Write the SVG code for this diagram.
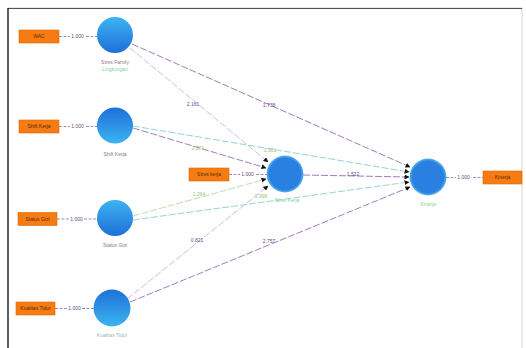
<svg xmlns="http://www.w3.org/2000/svg" width="526" height="348" viewBox="0 0 526 348">
<style>
text{font-family:"Liberation Sans",Arial,sans-serif;font-size:5px;text-anchor:middle}
.lbl{fill:#8a7a8a}
.sub{fill:#7fd39a}
.coef{fill:#6a4a80}
.coefg{fill:#9ac27a}
.box{fill:#f57c12;stroke:#e06a00;stroke-width:0.6}
.btxt{fill:#5a2a00}
.ld{stroke:#7a5a8a;stroke-width:0.7;stroke-dasharray:3 1.5;fill:none}
.c{fill:none;stroke-width:0.8;stroke-dasharray:7 2}
.p{stroke:#8a5aa8}
.lp{stroke:#c8a8d8}
.t{stroke:#7cc8c8}
.g{stroke:#a8d890}
</style>
<defs>
<radialGradient id="halo" cx="0.5" cy="0.5" r="0.5">
<stop offset="0.85" stop-color="#2a80e0"/>
<stop offset="1" stop-color="#5ab8f0"/>
</radialGradient>
<linearGradient id="down" x1="0" y1="0" x2="0" y2="1">
<stop offset="0" stop-color="#3cb4f2"/>
<stop offset="1" stop-color="#1f6fd8"/>
</linearGradient>
<linearGradient id="up" x1="0" y1="0" x2="0" y2="1">
<stop offset="0" stop-color="#1f6fd8"/>
<stop offset="1" stop-color="#3cb4f2"/>
</linearGradient>
<marker id="arr" markerWidth="5" markerHeight="5" refX="4.5" refY="2.5" orient="auto" markerUnits="userSpaceOnUse">
<path d="M0,0 L5,2.5 L0,5 Z" fill="#111"/>
</marker>
</defs>
<rect x="0" y="0" width="526" height="348" fill="#fff"/>
<path d="M8,348 V8 H522 V348" fill="none" stroke="#bbb" stroke-width="0.6"/>
<line x1="8" y1="8.5" x2="522" y2="8.5" stroke="#5a4a6a" stroke-width="1.2"/>
<line x1="8" y1="8" x2="8" y2="348" stroke="#222" stroke-width="1.4"/>

<g id="connectors">
<path class="c lp" d="M130,48 L268,162" marker-end="url(#arr)"/>
<path class="c p" d="M132,44 L410,167" marker-end="url(#arr)"/>
<path class="c p" d="M133,128 L266,168" marker-end="url(#arr)"/>
<path class="c t" d="M133,126 L409,172" marker-end="url(#arr)"/>
<path class="c g" d="M133,216 L266,179" marker-end="url(#arr)"/>
<path class="c t" d="M133,220 L409,182" marker-end="url(#arr)"/>
<path class="c lp" d="M127,299 L268,186" marker-end="url(#arr)"/>
<path class="c p" d="M130,302 L410,187" marker-end="url(#arr)"/>
<path class="c p" d="M303,175 L409,177" marker-end="url(#arr)"/>
<line class="ld" x1="59" y1="36.5" x2="97" y2="36.5"/>
<line class="ld" x1="59" y1="126.5" x2="97" y2="126.5"/>
<line class="ld" x1="57" y1="219" x2="96" y2="219"/>
<line class="ld" x1="55" y1="308.5" x2="94" y2="308.5"/>
<line class="ld" x1="229" y1="174.5" x2="267" y2="174.5"/>
<line class="ld" x1="446" y1="177.5" x2="483" y2="177.5"/>
<g>
<rect x="70" y="34" width="15" height="5" fill="#fff"/><text class="coef" x="77.5" y="38.3">1.000</text>
<rect x="70" y="124" width="15" height="5" fill="#fff"/><text class="coef" x="77.5" y="128.3">1.000</text>
<rect x="69" y="216.5" width="15" height="5" fill="#fff"/><text class="coef" x="76.5" y="220.8">1.000</text>
<rect x="67" y="306" width="15" height="5" fill="#fff"/><text class="coef" x="74.5" y="310.3">1.000</text>
<rect x="240" y="172" width="15" height="5" fill="#fff"/><text class="coef" x="247.5" y="176.3">1.000</text>
<rect x="456" y="175" width="15" height="5" fill="#fff"/><text class="coef" x="463.5" y="179.3">1.000</text>
<text class="coef" x="193" y="106">2.161</text>
<text class="coef" x="269" y="107">1.738</text>
<text class="coefg" x="198" y="150">2.271</text>
<text class="coefg" x="270" y="152">1.301</text>
<text class="coefg" x="199" y="196">1.264</text>
<text class="coefg" x="261" y="198">1.996</text>
<text class="coef" x="197" y="242">0.821</text>
<text class="coef" x="269" y="243">2.757</text>
<text class="coef" x="353" y="176">1.522</text>
</g>
</g>

<g id="n1"><circle cx="115" cy="35" r="18" fill="url(#down)"/><text class="lbl" x="115" y="64">Stres Family</text><text class="sub" x="115" y="71">Lingkungan</text></g>
<g id="n2"><circle cx="115" cy="125.5" r="18" fill="url(#up)"/><text class="lbl" x="115" y="156">Shift Kerja</text></g>
<g id="n3"><circle cx="115" cy="218" r="18" fill="url(#down)"/><text class="lbl" x="115" y="247">Status Gizi</text></g>
<g id="n4"><circle cx="112" cy="308" r="18.5" fill="url(#up)"/><text class="sub" x="112" y="337" style="fill:#9ab8b0">Kualitas Tidur</text></g>
<g id="m"><circle cx="285" cy="174" r="18.5" fill="url(#halo)"/><text class="sub" x="287" y="202">Stres Kerja</text></g>
<g id="f"><circle cx="428" cy="177" r="18.5" fill="url(#halo)"/><text class="sub" x="428" y="206">Kinerja</text></g>

<g id="b1"><rect class="box" x="19" y="30" width="40" height="13"/><text class="btxt" x="39" y="38.3">WAC</text></g>
<g id="b2"><rect class="box" x="19" y="120" width="40" height="13"/><text class="btxt" x="39" y="128.3">Shift Kerja</text></g>
<g id="b3"><rect class="box" x="18" y="212.5" width="39" height="13"/><text class="btxt" x="37.5" y="220.8">Status Gizi</text></g>
<g id="b4"><rect class="box" x="16" y="302" width="39" height="13"/><text class="btxt" x="35.5" y="310.3">Kualitas Tidur</text></g>
<g id="bm"><rect class="box" x="189" y="168" width="40" height="13"/><text class="btxt" x="209" y="176.3">Stres kerja</text></g>
<g id="bf"><rect class="box" x="483" y="171" width="39" height="13"/><text class="btxt" x="502.5" y="179.3">Kinerja</text></g>
</svg>
